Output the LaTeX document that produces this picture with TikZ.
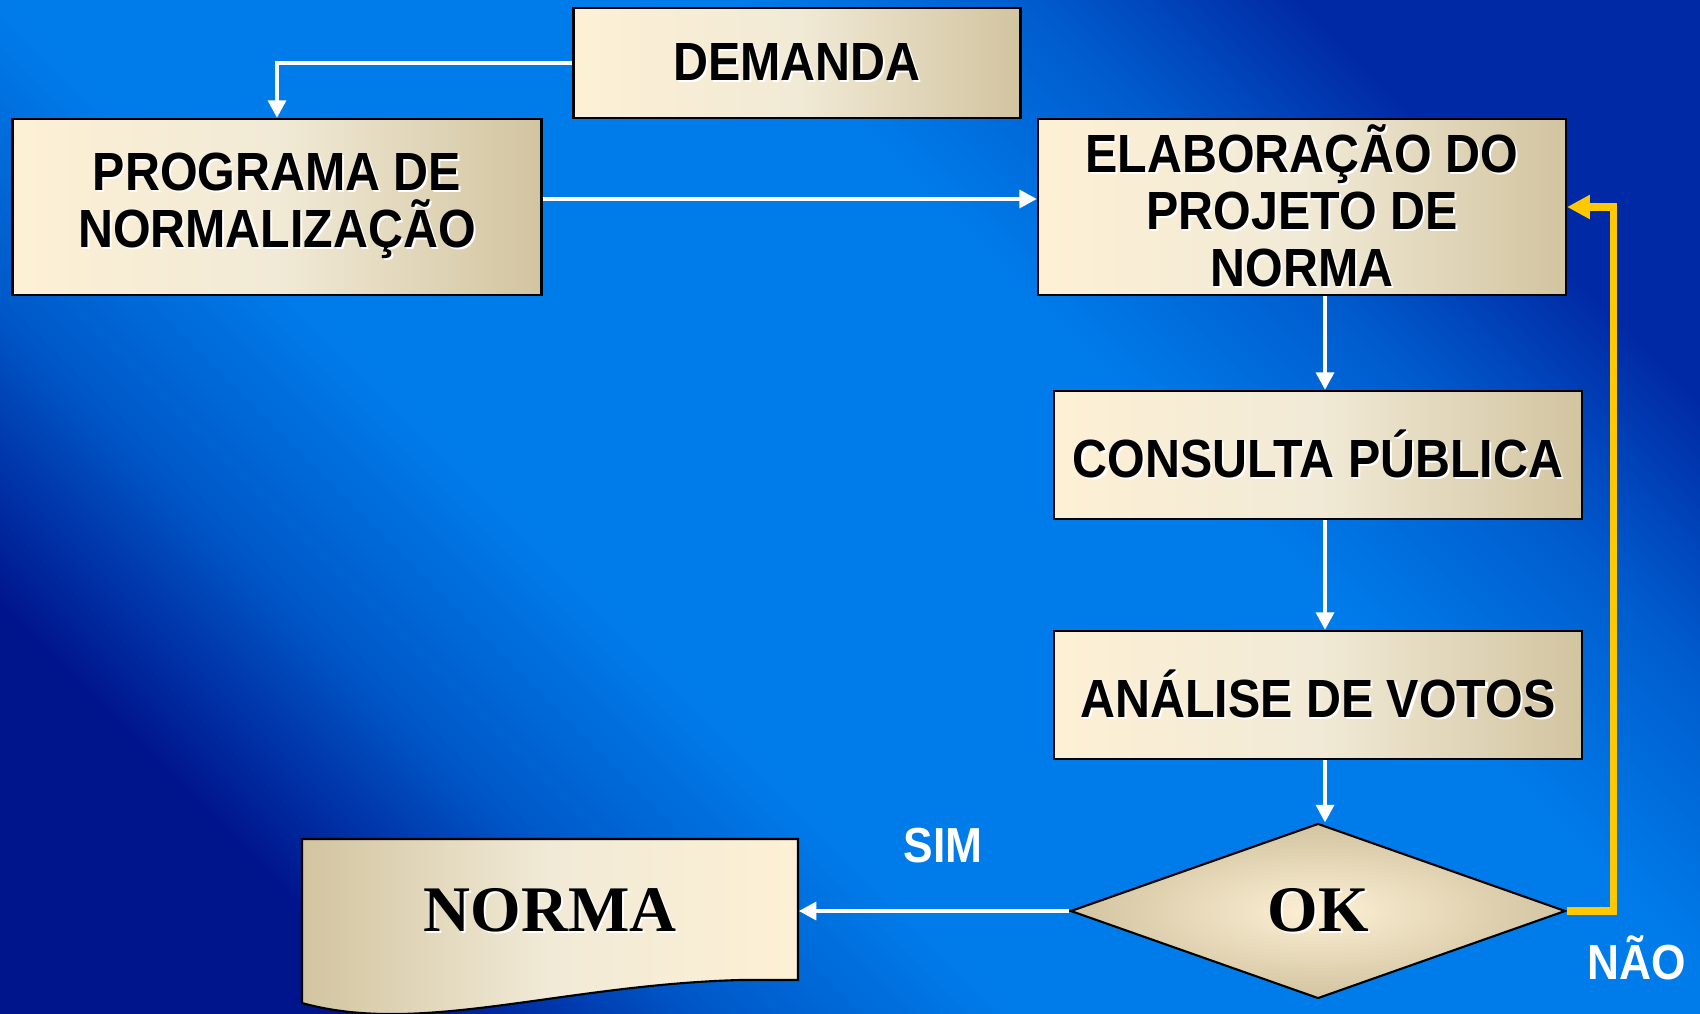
\documentclass[tikz,border=0pt]{standalone}
\usepackage{fontspec}
\usetikzlibrary{arrows.meta,shapes.geometric}

\newfontfamily\boxfont[FakeStretch=0.9]{Liberation Sans}
\newfontfamily\normafont{Liberation Serif}

\definecolor{bgdark}{RGB}{0,20,140}
\definecolor{bgmid}{RGB}{0,88,200}
\definecolor{bgbright}{RGB}{0,124,234}
\definecolor{bgmidtwo}{RGB}{0,92,205}
\definecolor{bgdarktwo}{RGB}{0,42,165}
\definecolor{boxlight}{RGB}{253,240,213}
\definecolor{boxmid}{RGB}{241,234,214}
\definecolor{boxdark}{RGB}{210,196,160}
\definecolor{naogold}{RGB}{255,200,0}

\pgfdeclarehorizontalshading{fundo}{100bp}{color(0bp)=(bgdark); color(25bp)=(bgdark); color(33bp)=(bgmid);
  color(41bp)=(bgbright); color(60bp)=(bgbright); color(68bp)=(bgmidtwo); color(75bp)=(bgdarktwo); color(100bp)=(bgdarktwo)}

% texto com sombra branca
\newcommand\sombra[1]{\leavevmode\rlap{\kern0.6pt\raisebox{-0.6pt}{\color{white}#1}}#1}

\tikzset{
  etapa/.style={draw=black, line width=0.6pt, inner sep=0pt, align=center,
    left color=boxlight, right color=boxdark, middle color=boxmid,
    font=\boxfont\bfseries\fontsize{15.3}{16.2}\selectfont},
  fluxo/.style={->, draw=white, line width=1.4pt},
  retorno/.style={-{Triangle[length=6.5pt,width=6.5pt]}, draw=naogold, line width=2.1pt},
  rotulo/.style={text=white, font=\boxfont\bfseries\fontsize{14}{16}\selectfont},
}

\begin{document}
\begin{tikzpicture}[x=0.1mm,y=-0.1mm,>={Triangle[length=5pt,width=5pt]}]
	\useasboundingbox (0,0) rectangle (1700,1013);
	\shade [shading=fundo, shading angle=45] (0,0) rectangle (1700,1013);
	
	% etapas
	\node [etapa, minimum width=44.7mm, minimum height=11mm] (demanda) at (797,63) {\sombra{DEMANDA}};
	\node [etapa, minimum width=52.9mm, minimum height=17.6mm] (programa) at (277,207) {\sombra{PROGRAMA DE}\\\sombra{NORMALIZAÇÃO}};
	\node [etapa, minimum width=52.8mm, minimum height=17.6mm] (elab) at (1302,207) {\sombra{ELABORAÇÃO DO}\\\sombra{PROJETO DE}\\\sombra{NORMA}};
	\node [etapa, minimum width=52.8mm, minimum height=12.8mm] (consulta) at (1318,455) {\sombra{CONSULTA PÚBLICA}};
	\node [etapa, minimum width=52.8mm, minimum height=12.8mm] (analise) at (1318,695) {\sombra{ANÁLISE DE VOTOS}};
	\node [diamond, draw=black, line width=0.6pt, inner sep=0pt, inner color=boxlight, outer color=boxdark,
		minimum width=49.5mm, minimum height=17.5mm, font=\normafont\bfseries\fontsize{18.5}{20}\selectfont] (ok) at (1318,911) {\sombra{OK}};
	
	% documento final
	\shade [draw=black, line width=0.6pt, left color=boxdark, right color=boxlight, middle color=boxmid]
		(302,839) -- (798,839) -- (798,980) -- (740,980) .. controls (560,985) and (420,1036) .. (302,1003) -- cycle;
	\node [inner sep=0pt, minimum width=49.6mm, minimum height=14.1mm, font=\normafont\bfseries\fontsize{18.5}{20}\selectfont] (norma) at (550,911) {\sombra{NORMA}};
	
	% ligacoes
	\coordinate (col) at (1325,0);
	\draw [fluxo] (demanda.west) -| (programa.north);
	\draw [fluxo] ([yshift=0.8mm]programa.east) -- ([yshift=0.8mm]elab.west);
	\draw [fluxo] (col |- elab.south) -- (col |- consulta.north);
	\draw [fluxo] (col |- consulta.south) -- (col |- analise.north);
	\draw [fluxo] (col |- analise.south) -- (col |- ok.north);
	\draw [fluxo] (ok.west) -- (ok.west -| norma.east);
	\draw [retorno] (ok.east) -- ++(47,0) |- (elab.east);
	
	\node [rotulo] (sim) at (943,846) {SIM};
	\node [rotulo] (nao) at (1637,958) {NÃO};
\end{tikzpicture}
\end{document}
